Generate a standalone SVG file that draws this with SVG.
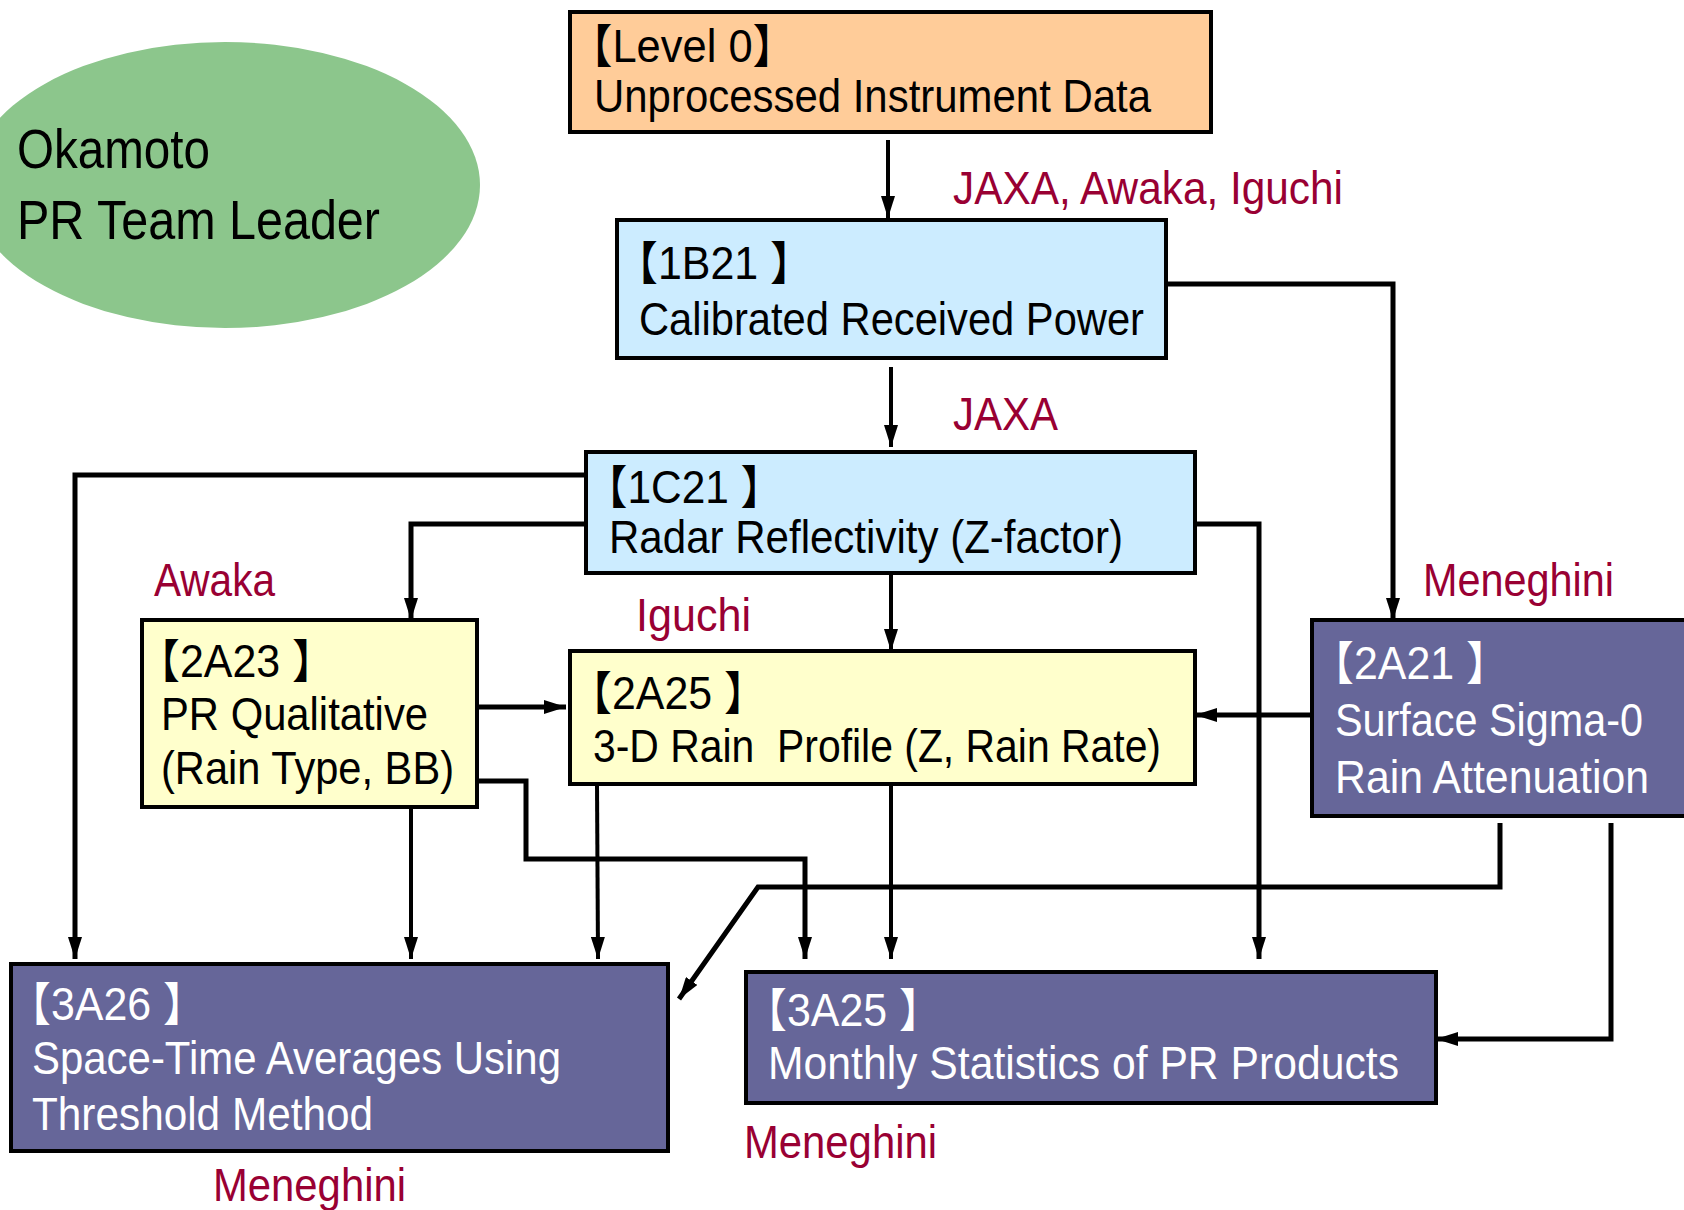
<svg xmlns="http://www.w3.org/2000/svg" width="1684" height="1210" viewBox="0 0 1684 1210">
<defs>
<marker id="ah" markerUnits="userSpaceOnUse" markerWidth="22" markerHeight="14" refX="22" refY="7" orient="auto">
<path d="M0,0 L22,7 L0,14 z" fill="#000"/>
</marker>
<style>
text{font-family:"Liberation Sans Narrow","Liberation Sans","Noto Sans CJK JP",Arial,sans-serif;}
.t{font-size:46px;fill:#000;}
.w{font-size:46px;fill:#fff;}
.r{font-size:46px;fill:#990033;}
.box{stroke:#000;stroke-width:4;}
.c{fill:none;stroke:#000;stroke-width:4;marker-end:url(#ah);}
.k{stroke-width:5;}
</style>
</defs>
<rect width="1684" height="1210" fill="#fff"/>

<g id="leader">
<ellipse cx="225" cy="185" rx="255" ry="143" fill="#8CC68C"/>
<text class="t" x="17" y="168" style="font-size:56px" textLength="193" lengthAdjust="spacingAndGlyphs">Okamoto</text>
<text class="t" x="17" y="239" style="font-size:56px" textLength="363" lengthAdjust="spacingAndGlyphs">PR Team Leader</text>
</g>

<g id="connectors">
<line class="c" x1="888" y1="140" x2="888" y2="218"/>
<polyline class="c k" points="1166,284 1393,284 1393,620"/>
<line class="c" x1="891" y1="367" x2="891" y2="447"/>
<polyline class="c k" points="586,475 75,475 75,959"/>
<polyline class="c k" points="586,524 411,524 411,620"/>
<polyline class="c k" points="1195,524 1259,524 1259,959"/>
<line class="c" x1="891" y1="573" x2="891" y2="651"/>
<line class="c k" x1="477" y1="707" x2="566" y2="707"/>
<line class="c k" x1="1312" y1="715" x2="1195" y2="715"/>
<line class="c" x1="411" y1="807" x2="411" y2="959"/>
<polyline class="c k" points="479,781 526,781 526,859 805,859 805,959"/>
<line class="c" x1="597" y1="784" x2="598" y2="959"/>
<line class="c" x1="891" y1="784" x2="891" y2="959"/>
<polyline class="c k" points="1500,823 1500,887 758,887 679,999"/>
<polyline class="c k" points="1611,823 1611,1039 1436,1039"/>
</g>

<g id="level0">
<rect class="box" x="570" y="12" width="641" height="120" fill="#FFCC99"/>
<text class="t" x="569" y="62" textLength="227" lengthAdjust="spacingAndGlyphs">【Level 0】</text>
<text class="t" x="594" y="112" textLength="557" lengthAdjust="spacingAndGlyphs">Unprocessed Instrument Data</text>
</g>

<g id="n1B21">
<rect class="box" x="617" y="220" width="549" height="138" fill="#CCECFF"/>
<text class="t" x="615" y="279" textLength="198" lengthAdjust="spacingAndGlyphs">【1B21 】</text>
<text class="t" x="639" y="335" textLength="505" lengthAdjust="spacingAndGlyphs">Calibrated Received Power</text>
</g>

<g id="n1C21">
<rect class="box" x="586" y="452" width="609" height="121" fill="#CCECFF"/>
<text class="t" x="585" y="503" textLength="198" lengthAdjust="spacingAndGlyphs">【1C21 】</text>
<text class="t" x="609" y="553" textLength="514" lengthAdjust="spacingAndGlyphs">Radar Reflectivity (Z-factor)</text>
</g>

<g id="n2A23">
<rect class="box" x="142" y="620" width="335" height="187" fill="#FFFFCC"/>
<text class="t" x="137" y="677" textLength="198" lengthAdjust="spacingAndGlyphs">【2A23 】</text>
<text class="t" x="161" y="730" textLength="267" lengthAdjust="spacingAndGlyphs">PR Qualitative</text>
<text class="t" x="161" y="784" textLength="293" lengthAdjust="spacingAndGlyphs">(Rain Type, BB)</text>
</g>

<g id="n2A25">
<rect class="box" x="570" y="651" width="625" height="133" fill="#FFFFCC"/>
<text class="t" x="569" y="709" textLength="198" lengthAdjust="spacingAndGlyphs">【2A25 】</text>
<text class="t" x="593" y="762" textLength="568" lengthAdjust="spacingAndGlyphs" xml:space="preserve">3-D Rain  Profile (Z, Rain Rate)</text>
</g>

<g id="n2A21">
<rect class="box" x="1312" y="620" width="392" height="196" fill="#666699"/>
<text class="w" x="1311" y="679" textLength="198" lengthAdjust="spacingAndGlyphs">【2A21 】</text>
<text class="w" x="1335" y="736" textLength="308" lengthAdjust="spacingAndGlyphs">Surface Sigma-0</text>
<text class="w" x="1335" y="793" textLength="314" lengthAdjust="spacingAndGlyphs">Rain Attenuation</text>
</g>

<g id="n3A26">
<rect class="box" x="11" y="964" width="657" height="187" fill="#666699"/>
<text class="w" x="8" y="1020" textLength="198" lengthAdjust="spacingAndGlyphs">【3A26 】</text>
<text class="w" x="32" y="1074" textLength="529" lengthAdjust="spacingAndGlyphs">Space-Time Averages Using</text>
<text class="w" x="32" y="1130" textLength="341" lengthAdjust="spacingAndGlyphs">Threshold Method</text>
</g>

<g id="n3A25">
<rect class="box" x="746" y="972" width="690" height="131" fill="#666699"/>
<text class="w" x="744" y="1026" textLength="198" lengthAdjust="spacingAndGlyphs">【3A25 】</text>
<text class="w" x="768" y="1079" textLength="631" lengthAdjust="spacingAndGlyphs">Monthly Statistics of PR Products</text>
</g>

<g id="labels">
<text class="r" x="953" y="204" textLength="390" lengthAdjust="spacingAndGlyphs">JAXA, Awaka, Iguchi</text>
<text class="r" x="953" y="430" textLength="105" lengthAdjust="spacingAndGlyphs">JAXA</text>
<text class="r" x="154" y="596" textLength="121" lengthAdjust="spacingAndGlyphs">Awaka</text>
<text class="r" x="636" y="631" textLength="115" lengthAdjust="spacingAndGlyphs">Iguchi</text>
<text class="r" x="1423" y="596" textLength="191" lengthAdjust="spacingAndGlyphs">Meneghini</text>
<text class="r" x="744" y="1158" textLength="193" lengthAdjust="spacingAndGlyphs">Meneghini</text>
<text class="r" x="213" y="1201" textLength="193" lengthAdjust="spacingAndGlyphs">Meneghini</text>
</g>
</svg>
